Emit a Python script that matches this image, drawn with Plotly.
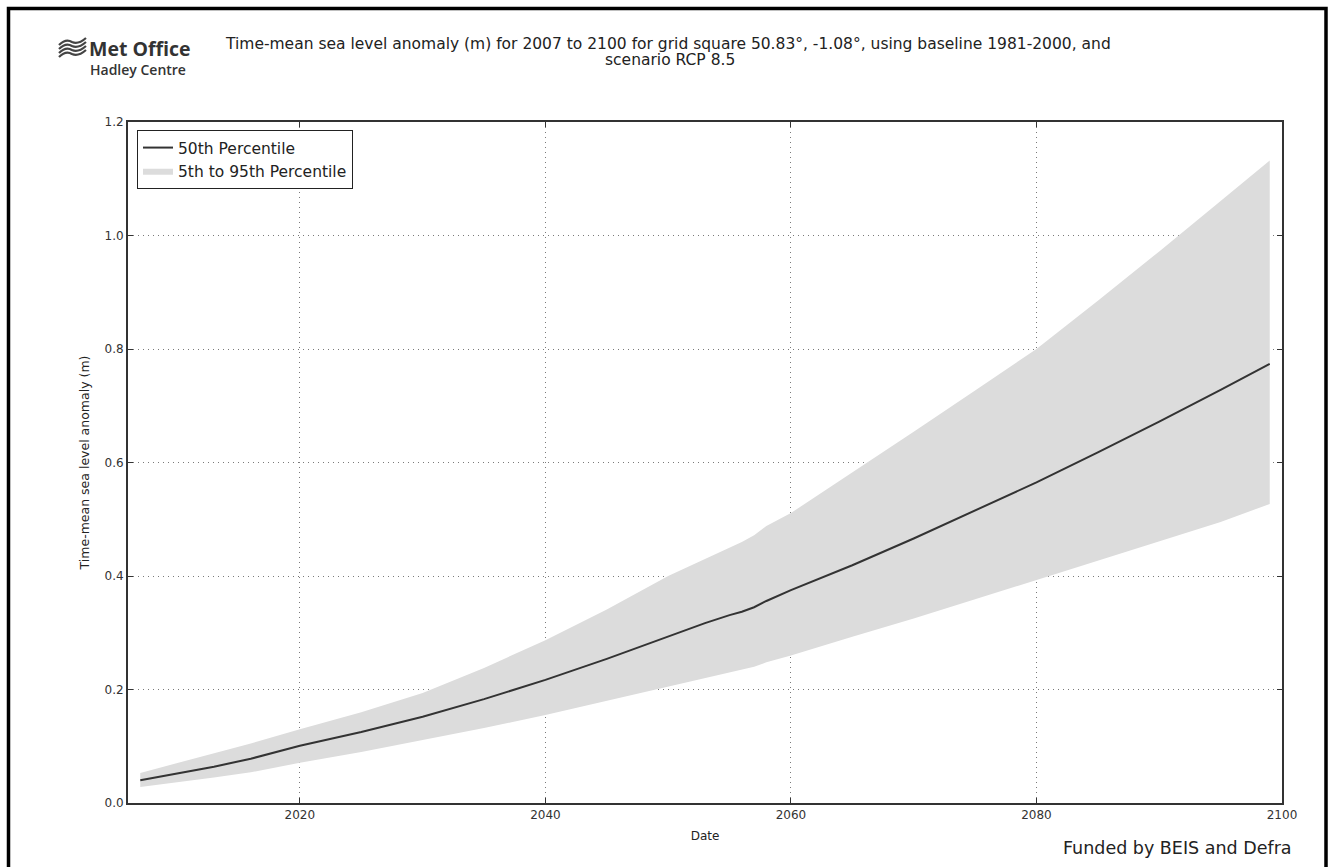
import plotly.graph_objects as go

years = [2007, 2010, 2013, 2016, 2020, 2025, 2030, 2035, 2040, 2045, 2050, 2053,
         2055, 2056, 2057, 2058, 2060, 2065, 2070, 2075, 2080, 2085, 2090, 2095, 2099]
p50 = [0.040, 0.052, 0.064, 0.078, 0.101, 0.125, 0.152, 0.183, 0.217, 0.254, 0.293, 0.317,
       0.331, 0.337, 0.345, 0.356, 0.375, 0.419, 0.466, 0.515, 0.565, 0.618, 0.672, 0.728, 0.774]
p95 = [0.053, 0.070, 0.087, 0.105, 0.130, 0.160, 0.194, 0.238, 0.287, 0.341, 0.400, 0.430,
       0.450, 0.460, 0.472, 0.488, 0.511, 0.582, 0.654, 0.727, 0.800, 0.885, 0.972, 1.061, 1.132]
p05 = [0.028, 0.036, 0.045, 0.054, 0.071, 0.090, 0.111, 0.132, 0.155, 0.180, 0.204, 0.219,
       0.229, 0.234, 0.240, 0.248, 0.260, 0.293, 0.325, 0.359, 0.393, 0.427, 0.461, 0.495, 0.527]

x_ticks = [2020, 2040, 2060, 2080, 2100]
y_ticks = [0.0, 0.2, 0.4, 0.6, 0.8, 1.0, 1.2]

FONT = "DejaVu Sans"
W, H = 1333, 867
ML, MR, MT, MB = 128, 51, 122, 64
PW, PH = W - ML - MR, H - MT - MB


def px(x):
    return (x - ML) / PW


def py(y):
    return (H - MB - y) / PH


fig = go.Figure()
fig.add_trace(go.Scatter(x=years, y=p05, mode="lines", line=dict(width=0, color="#dcdcdc"),
                         showlegend=False, hoverinfo="skip"))
fig.add_trace(go.Scatter(x=years, y=p95, mode="lines", line=dict(width=0, color="#dcdcdc"),
                         fill="tonexty", fillcolor="#dcdcdc", name="5th to 95th Percentile"))
fig.add_trace(go.Scatter(x=years, y=p50, mode="lines", line=dict(width=2, color="#333333"),
                         name="50th Percentile"))

axis_common = dict(
    showline=True, linecolor="#333333", linewidth=1.8, mirror="ticks",
    ticks="inside", ticklen=5, tickcolor="#333333",
    showgrid=True, gridcolor="#7a7a7a", griddash="1px,4px", gridwidth=1,
    zeroline=False,
    tickfont=dict(family=FONT, size=12, color="#333333"),
)

fig.update_xaxes(range=[2006, 2100], tickvals=x_ticks, ticktext=[str(t) for t in x_ticks],
                 title=dict(text="Date", font=dict(family=FONT, size=12, color="#222222"), standoff=10),
                 **axis_common)
fig.update_yaxes(range=[0, 1.2], tickvals=y_ticks, ticktext=[f"{t:.1f}" for t in y_ticks],
                 title=dict(text="Time-mean sea level anomaly (m)",
                            font=dict(family=FONT, size=12.5, color="#222222"), standoff=12),
                 **axis_common)

# Met Office wave icon (four slanted waves)
wave_paths = []
for yy in [41, 45, 49, 53]:
    pts = [(59, yy + 4), (66, yy - 3), (72, yy + 1), (78, yy + 4), (86, yy - 3)]
    d = "M {:.5f},{:.5f} Q {:.5f},{:.5f} {:.5f},{:.5f} Q {:.5f},{:.5f} {:.5f},{:.5f}".format(
        px(pts[0][0]), py(pts[0][1]), px(pts[1][0]), py(pts[1][1]), px(pts[2][0]), py(pts[2][1]),
        px(pts[3][0]), py(pts[3][1]), px(pts[4][0]), py(pts[4][1]))
    wave_paths.append(dict(type="path", xref="paper", yref="paper", path=d,
                           line=dict(color="#444444", width=2.2), layer="above"))

fig.update_layout(
    width=W, height=H,
    margin=dict(l=ML, r=MR, t=MT, b=MB),
    plot_bgcolor="white", paper_bgcolor="white",
    font=dict(family=FONT, color="#222222"),
    showlegend=True,
    legend=dict(x=px(137), y=py(130), xanchor="left", yanchor="top", traceorder="reversed",
                bordercolor="#222222", borderwidth=1, bgcolor="white",
                font=dict(family=FONT, size=15.5, color="#222222"),
                tracegroupgap=0, itemwidth=30),
    shapes=[
        dict(type="rect", xref="paper", yref="paper",
             x0=px(8.5), x1=px(1326), y0=py(900), y1=py(8.5),
             line=dict(color="black", width=3.5), layer="above"),
    ] + wave_paths,
    annotations=[
        dict(text="Time-mean sea level anomaly (m) for 2007 to 2100 for grid square 50.83°, -1.08°, using baseline 1981-2000, and",
             xref="paper", yref="paper", x=px(668), y=py(44), xanchor="center", yanchor="middle",
             showarrow=False, font=dict(family=FONT, size=15.5, color="#222222")),
        dict(text="scenario RCP 8.5",
             xref="paper", yref="paper", x=px(670), y=py(60), xanchor="center", yanchor="middle",
             showarrow=False, font=dict(family=FONT, size=15.5, color="#222222")),
        dict(text="<b>Met Office</b>", xref="paper", yref="paper", x=px(87), y=py(48),
             xanchor="left", yanchor="middle", showarrow=False,
             font=dict(family="Open Sans", size=19.5, color="#333333")),
        dict(text="Hadley Centre", xref="paper", yref="paper", x=px(188), y=py(69),
             xanchor="right", yanchor="middle", showarrow=False,
             font=dict(family="Open Sans", size=14, color="#333333", weight=600)),
        dict(text="Funded by BEIS and Defra", xref="paper", yref="paper", x=px(1294), y=py(848),
             xanchor="right", yanchor="middle", showarrow=False,
             font=dict(family=FONT, size=17.5, color="#222222")),
    ],
)

fig.write_html("out.html")
